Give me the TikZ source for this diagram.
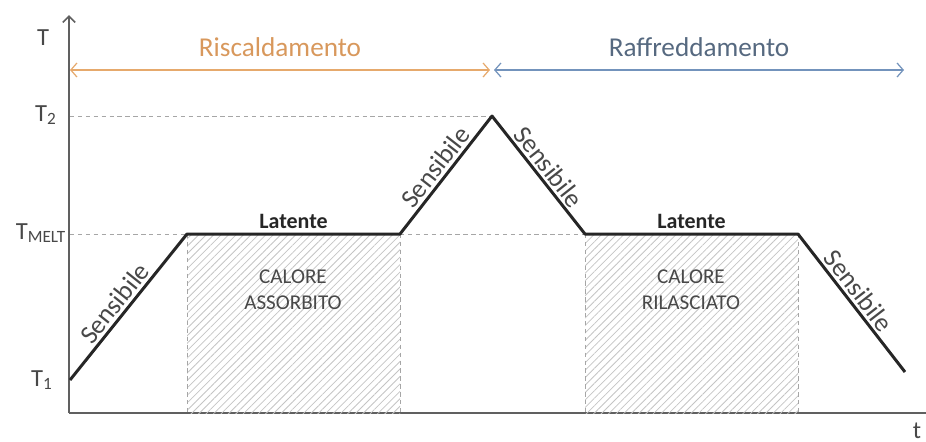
\documentclass[tikz,border=0pt]{standalone}
\usepackage{fontspec}
\setmainfont{Carlito}
\usetikzlibrary{arrows.meta,patterns.meta}
\definecolor{axgrey}{HTML}{606060}
\definecolor{hotorange}{HTML}{E6A96C}
\definecolor{hottext}{HTML}{D8985C}
\definecolor{coolblue}{HTML}{7393BC}
\definecolor{cooltext}{HTML}{566980}
\definecolor{curveblack}{HTML}{262626}
\definecolor{guidegrey}{HTML}{A6A6A6}
\definecolor{hatchgrey}{HTML}{C4C4C4}
\definecolor{labelgrey}{HTML}{484848}
\tikzset{
  axis/.style={draw=axgrey, line width=1pt},
  guide/.style={draw=guidegrey, line width=0.5pt, dash pattern=on 2.5pt off 2pt},
  curve/.style={draw=curveblack, line width=1.7pt, line join=round},
  hatchbox/.style={pattern={Lines[angle=45,distance=3pt,line width=0.45pt]}, pattern color=hatchgrey},
  phase/.style={line width=0.7pt, {Straight Barb[length=3.5pt,width=8pt]}-{Straight Barb[length=3.5pt,width=8pt]}},
  ylab/.style={text=labelgrey, font=\fontsize{14}{16}\selectfont},
  slope/.style={sloped, above, text=labelgrey, font=\fontsize{15}{17}\selectfont, inner sep=1.5pt},
  latent/.style={above, text=curveblack, font=\fontsize{12.5}{14}\selectfont\bfseries, inner sep=2pt},
  heat/.style={text=labelgrey, align=center, font=\fontsize{12}{15}\selectfont},
}

\begin{document}
\begin{tikzpicture}[x=0.02cm, y=-0.02cm]
  \useasboundingbox (0,0) rectangle (926,441);
  % axes
  \coordinate (orig) at (69,413);
  \coordinate (ytop) at (69,15);
  \coordinate (xend) at (926,413);
  \draw[axis, -{Straight Barb[length=3.5pt,width=7pt]}] (orig) -- (ytop);
  \draw[axis] (orig) -- (xend);
  \node[ylab] (tlab) at (43,38) {T};
  \node[ylab] (tfin) at (917,431) {t};
  % curve points
  \coordinate (p0) at (70,380);
  \coordinate (p1) at (187,234);
  \coordinate (p2) at (400,234);
  \coordinate (p3) at (492,116);
  \coordinate (p4) at (585,234);
  \coordinate (p5) at (798,234);
  \coordinate (p6) at (905,372);
  \coordinate (b1) at (187,413);
  \coordinate (b2) at (400,413);
  \coordinate (b4) at (585,413);
  \coordinate (b5) at (798,413);
  % hatched areas
  \fill[hatchbox] (p1) rectangle (b2);
  \fill[hatchbox] (p4) rectangle (b5);
  % guides
  \node[ylab] (ttwo) at (46,115) {T\textsubscript{2}};
  \node[ylab] (tmelt) at (41,233) {T\textsubscript{MELT}};
  \node[ylab] (tone) at (42,380) {T\textsubscript{1}};
  \coordinate (g2) at (70,116);
  \coordinate (gm) at (70,234);
  \draw[guide] (g2) -- (p3);
  \draw[guide] (gm) -- (p1);
  \draw[guide] (p2) -- (p4);
  \draw[guide] (p1) -- (b1);
  \draw[guide] (p2) -- (b2);
  \draw[guide] (p4) -- (b4);
  \draw[guide] (p5) -- (b5);
  % phases
  \coordinate (h0) at (70,70);
  \coordinate (h1) at (490,70);
  \coordinate (c0) at (494,70);
  \coordinate (c1) at (904,70);
  \draw[phase, draw=hotorange] (h0) -- node[above=4pt, text=hottext, font=\fontsize{15.5}{17}\selectfont] (heatlab) {Riscaldamento} (h1);
  \draw[phase, draw=coolblue] (c0) -- node[above=4pt, text=cooltext, font=\fontsize{15.5}{17}\selectfont] (coollab) {Raffreddamento} (c1);
  % temperature curve
  \draw[curve] (p0) -- node[slope, pos=0.47] (s1) {Sensibile} (p1)
    -- node[latent] (l1) {Latente} (p2)
    -- node[slope] (s2) {Sensibile} (p3)
    -- node[slope] (s3) {Sensibile} (p4)
    -- node[latent] (l2) {Latente} (p5)
    -- node[slope, pos=0.47] (s4) {Sensibile} (p6);
  \node[heat] (abs) at (293,290) {CALORE\\ASSORBITO};
  \node[heat] (ril) at (691,290) {CALORE\\RILASCIATO};
\end{tikzpicture}
\end{document}
